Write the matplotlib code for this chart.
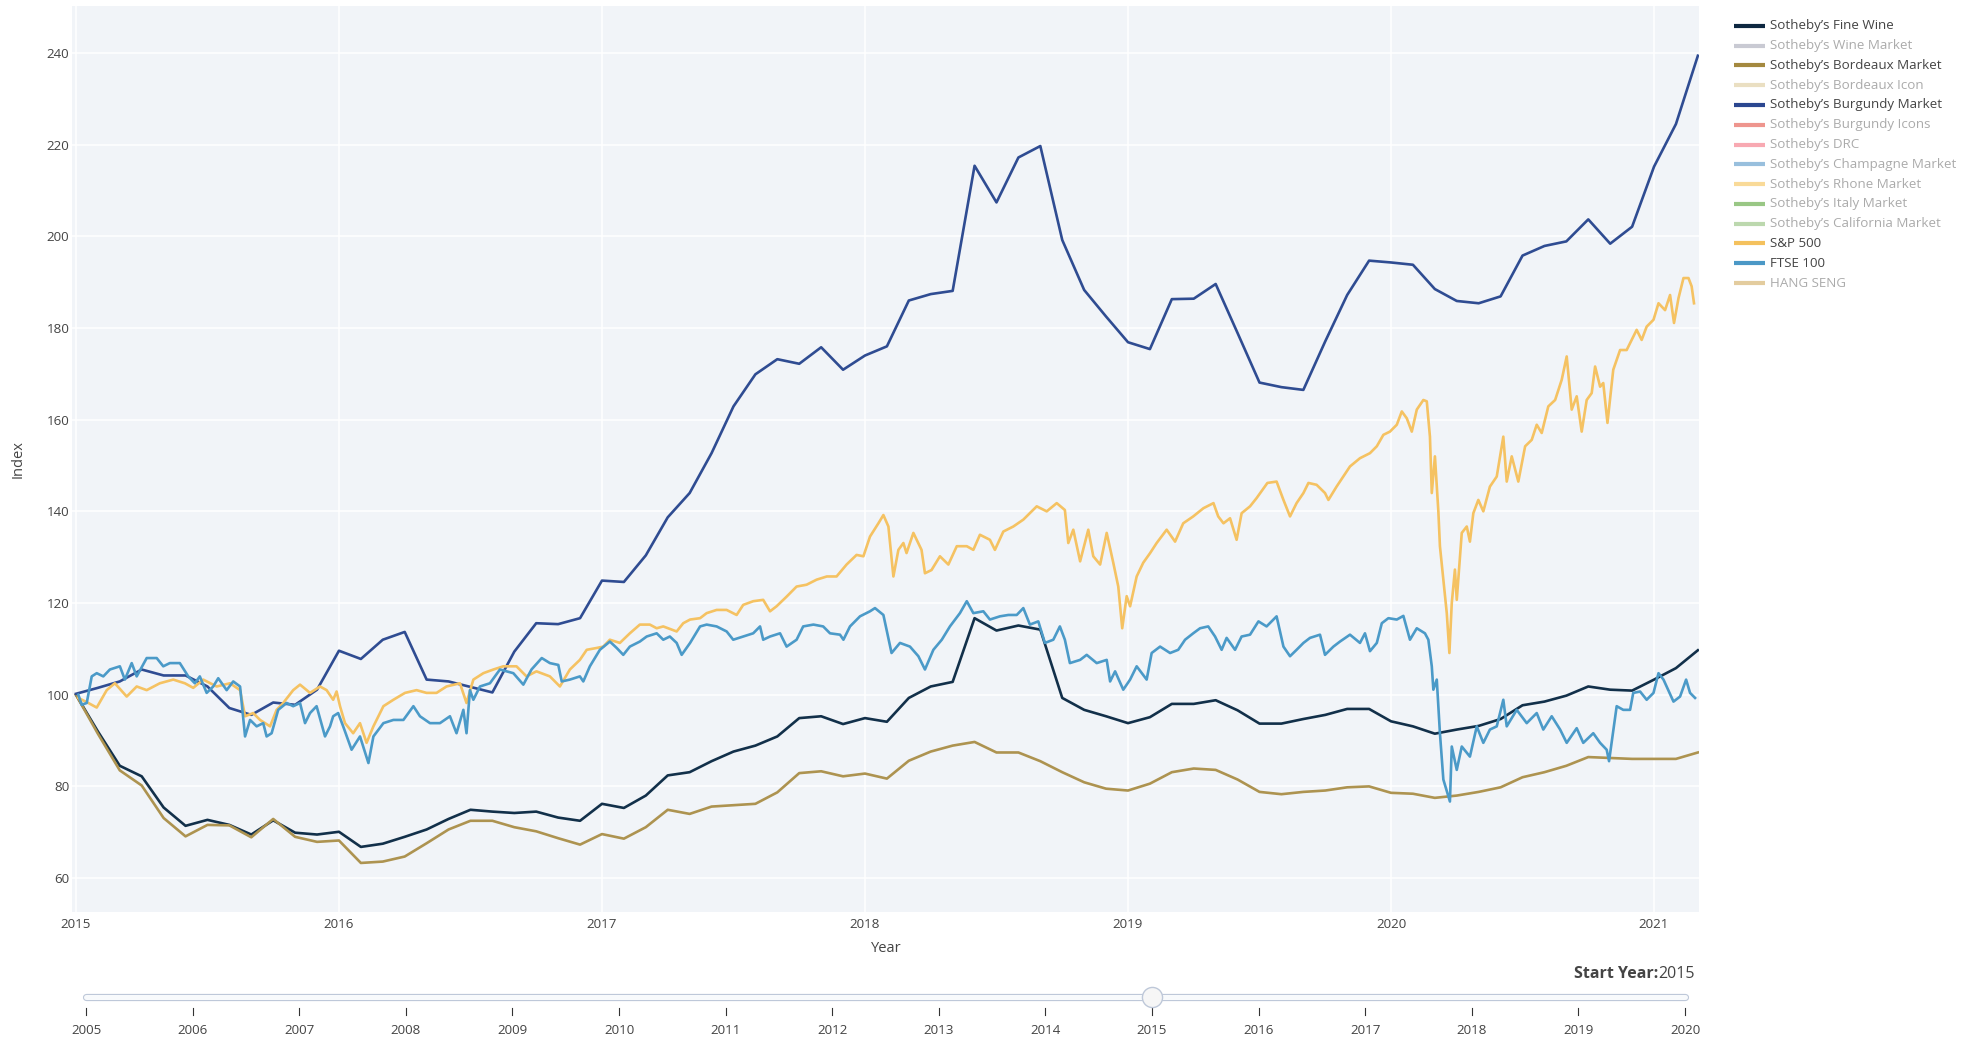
import numpy as np
import matplotlib
matplotlib.use('Agg')
import matplotlib.pyplot as plt
from matplotlib.lines import Line2D

plt.rcParams['font.family'] = ['Open Sans', 'DejaVu Sans']

# monthly wine indices, Jan 2015 .. Mar 2021
months = 2015 + np.arange(75) / 12
fine_wine = [100.0, 92.0, 84.5, 82.2, 75.4, 71.4, 72.7, 71.6, 69.5, 72.6, 69.9, 69.5,
             70.1, 66.8, 67.5, 69.0, 70.6, 72.9, 74.9, 74.5, 74.2, 74.5, 73.2, 72.5,
             76.2, 75.3, 78.0, 82.4, 83.1, 85.5, 87.6, 88.9, 90.9, 94.9, 95.3, 93.6,
             94.9, 94.1, 99.3, 101.8, 102.8, 116.7, 114.0, 115.1, 114.2, 99.3, 96.7, 95.3,
             93.8, 95.1, 98.0, 98.0, 98.8, 96.6, 93.7, 93.7, 94.7, 95.6, 96.9, 96.9,
             94.2, 93.1, 91.5, 92.4, 93.2, 94.7, 97.7, 98.5, 99.8, 101.8, 101.1, 100.9,
             103.3, 105.8, 109.7]
bordeaux = [100.0, 91.5, 83.5, 80.2, 73.1, 69.1, 71.6, 71.5, 68.9, 72.9, 69.0, 67.9,
            68.2, 63.3, 63.6, 64.7, 67.6, 70.6, 72.5, 72.5, 71.1, 70.2, 68.7, 67.3,
            69.6, 68.6, 71.1, 74.9, 74.0, 75.6, 75.9, 76.2, 78.7, 82.9, 83.3, 82.2,
            82.8, 81.7, 85.6, 87.6, 88.9, 89.7, 87.4, 87.4, 85.5, 83.1, 80.9, 79.5,
            79.1, 80.6, 83.1, 83.9, 83.6, 81.5, 78.8, 78.3, 78.8, 79.1, 79.8, 80.0,
            78.6, 78.4, 77.5, 78.0, 78.8, 79.8, 82.0, 83.1, 84.5, 86.4, 86.2, 86.0,
            86.0, 86.0, 87.4]
burgundy = [100.2, 101.5, 102.9, 105.5, 104.2, 104.2, 101.8, 97.1, 95.6, 98.3, 97.8, 101.1,
            109.6, 107.8, 112.0, 113.7, 103.3, 102.9, 101.7, 100.5, 109.4, 115.6, 115.4, 116.7,
            124.9, 124.6, 130.4, 138.7, 144.0, 152.7, 162.9, 169.9, 173.2, 172.2, 175.8, 170.9,
            174.0, 176.0, 186.0, 187.4, 188.1, 215.4, 207.4, 217.2, 219.7, 199.2, 188.3, 182.5,
            176.9, 175.4, 186.3, 186.4, 189.6, 178.9, 168.1, 167.1, 166.5, 177.1, 187.2, 194.7,
            194.3, 193.8, 188.5, 185.9, 185.4, 186.9, 195.8, 197.9, 198.9, 203.7, 198.4, 202.1,
            215.2, 224.5, 239.4]

# S&P 500 (rebased)
sp_dates = [2015.009, 2015.047, 2015.079, 2015.117, 2015.148, 2015.193, 2015.231, 2015.269, 2015.319, 2015.370,
            2015.414, 2015.446, 2015.484, 2015.535, 2015.586, 2015.624, 2015.643, 2015.674, 2015.700, 2015.738,
            2015.763, 2015.788, 2015.826, 2015.852, 2015.890, 2015.928, 2015.953, 2015.978, 2015.991, 2016.004,
            2016.023, 2016.054, 2016.080, 2016.105, 2016.131, 2016.169, 2016.207, 2016.251, 2016.295, 2016.333,
            2016.371, 2016.409, 2016.460, 2016.485, 2016.511, 2016.549, 2016.587, 2016.625, 2016.675, 2016.713,
            2016.751, 2016.802, 2016.840, 2016.878, 2016.916, 2016.942, 2016.980, 2017.005, 2017.030, 2017.068,
            2017.106, 2017.144, 2017.182, 2017.208, 2017.233, 2017.284, 2017.309, 2017.335, 2017.373, 2017.398,
            2017.436, 2017.474, 2017.512, 2017.537, 2017.575, 2017.613, 2017.639, 2017.664, 2017.702, 2017.740,
            2017.778, 2017.816, 2017.855, 2017.892, 2017.930, 2017.968, 2017.994, 2018.019, 2018.051, 2018.070,
            2018.089, 2018.108, 2018.127, 2018.146, 2018.158, 2018.184, 2018.215, 2018.228, 2018.253, 2018.285,
            2018.317, 2018.349, 2018.387, 2018.412, 2018.437, 2018.475, 2018.494, 2018.526, 2018.564, 2018.602,
            2018.653, 2018.691, 2018.729, 2018.760, 2018.773, 2018.792, 2018.818, 2018.849, 2018.868, 2018.894,
            2018.919, 2018.944, 2018.963, 2018.978, 2018.995, 2019.008, 2019.033, 2019.058, 2019.084, 2019.109,
            2019.147, 2019.179, 2019.210, 2019.248, 2019.287, 2019.325, 2019.343, 2019.363, 2019.388, 2019.413,
            2019.432, 2019.464, 2019.489, 2019.530, 2019.565, 2019.591, 2019.616, 2019.641, 2019.667, 2019.686,
            2019.717, 2019.749, 2019.762, 2019.793, 2019.844, 2019.882, 2019.920, 2019.946, 2019.971, 2019.996,
            2020.022, 2020.041, 2020.060, 2020.079, 2020.098, 2020.123, 2020.136, 2020.148, 2020.155, 2020.167,
            2020.180, 2020.186, 2020.199, 2020.212, 2020.222, 2020.231, 2020.243, 2020.250, 2020.269, 2020.288,
            2020.300, 2020.313, 2020.332, 2020.351, 2020.376, 2020.402, 2020.427, 2020.440, 2020.459, 2020.484,
            2020.510, 2020.535, 2020.554, 2020.573, 2020.598, 2020.624, 2020.649, 2020.668, 2020.687, 2020.706,
            2020.725, 2020.744, 2020.763, 2020.776, 2020.795, 2020.807, 2020.823, 2020.845, 2020.871, 2020.896,
            2020.915, 2020.934, 2020.953, 2020.972, 2020.998, 2021.017, 2021.042, 2021.061, 2021.076, 2021.093,
            2021.112, 2021.131, 2021.143, 2021.152]
sp_vals = [99.3, 98.2, 97.2, 101.0, 102.5, 99.6, 101.8, 101.0, 102.5, 103.3,
           102.5, 101.5, 103.3, 101.8, 102.5, 101.0, 95.3, 96.0, 94.5, 93.1,
           96.7, 98.2, 101.0, 102.2, 100.4, 101.8, 101.0, 98.9, 100.7, 97.5,
           93.8, 91.6, 93.8, 89.5, 93.1, 97.5, 98.9, 100.4, 101.0, 100.4,
           100.4, 101.8, 102.5, 98.2, 103.3, 104.7, 105.5, 106.2, 106.2, 104.0,
           105.1, 104.0, 101.8, 105.5, 107.6, 109.8, 110.2, 110.5, 112.0, 111.3,
           113.4, 115.3, 115.3, 114.5, 114.9, 113.8, 115.6, 116.4, 116.7, 117.8,
           118.5, 118.5, 117.4, 119.6, 120.4, 120.7, 118.2, 119.3, 121.4, 123.6,
           124.0, 125.1, 125.8, 125.8, 128.4, 130.5, 130.2, 134.5, 137.4, 139.2,
           136.7, 125.8, 131.6, 133.1, 130.9, 135.3, 131.6, 126.5, 127.2, 130.2,
           128.4, 132.4, 132.4, 131.6, 134.9, 133.8, 131.6, 135.6, 136.7, 138.2,
           141.1, 140.0, 141.8, 140.3, 133.1, 136.0, 129.1, 136.0, 130.2, 128.4,
           135.3, 128.8, 123.6, 114.5, 121.5, 119.3, 125.8, 128.8, 130.9, 133.1,
           136.0, 133.4, 137.4, 138.9, 140.7, 141.8, 138.9, 137.4, 138.5, 133.8,
           139.6, 141.1, 142.9, 146.2, 146.5, 142.5, 138.9, 141.8, 144.0, 146.2,
           145.8, 144.0, 142.5, 145.4, 149.8, 151.6, 152.7, 154.2, 156.7, 157.4,
           158.9, 161.8, 160.3, 157.4, 162.2, 164.3, 164.0, 156.3, 144.0, 152.0,
           140.0, 132.4, 125.1, 117.8, 109.1, 120.0, 127.3, 120.7, 135.3, 136.7,
           133.4, 139.6, 142.5, 140.0, 145.4, 147.6, 156.3, 146.5, 152.0, 146.5,
           154.2, 155.6, 158.9, 157.1, 162.9, 164.3, 168.7, 173.8, 162.2, 165.1,
           157.4, 164.3, 165.8, 171.6, 167.2, 168.0, 159.3, 170.9, 175.2, 175.2,
           177.4, 179.6, 177.4, 180.3, 181.8, 185.4, 183.9, 187.2, 181.1, 186.5,
           190.9, 190.9, 189.1, 185.4]

# FTSE 100 (rebased)
ftse_dates = [2015.009, 2015.022, 2015.041, 2015.060, 2015.079, 2015.104, 2015.129, 2015.167, 2015.186, 2015.212,
              2015.231, 2015.269, 2015.307, 2015.332, 2015.357, 2015.395, 2015.427, 2015.452, 2015.471, 2015.497,
              2015.522, 2015.541, 2015.573, 2015.598, 2015.624, 2015.643, 2015.662, 2015.687, 2015.712, 2015.725,
              2015.744, 2015.769, 2015.801, 2015.826, 2015.852, 2015.871, 2015.890, 2015.915, 2015.947, 2015.966,
              2015.978, 2015.997, 2016.016, 2016.048, 2016.080, 2016.112, 2016.131, 2016.169, 2016.207, 2016.245,
              2016.283, 2016.308, 2016.346, 2016.384, 2016.422, 2016.447, 2016.473, 2016.485, 2016.498, 2016.511,
              2016.536, 2016.574, 2016.612, 2016.663, 2016.701, 2016.732, 2016.771, 2016.802, 2016.834, 2016.847,
              2016.878, 2016.916, 2016.929, 2016.954, 2016.992, 2017.030, 2017.056, 2017.081, 2017.106, 2017.144,
              2017.170, 2017.208, 2017.233, 2017.258, 2017.284, 2017.303, 2017.335, 2017.373, 2017.398, 2017.436,
              2017.474, 2017.499, 2017.537, 2017.575, 2017.601, 2017.613, 2017.639, 2017.677, 2017.702, 2017.740,
              2017.765, 2017.804, 2017.841, 2017.867, 2017.905, 2017.918, 2017.943, 2017.981, 2018.019, 2018.038,
              2018.070, 2018.101, 2018.133, 2018.171, 2018.203, 2018.228, 2018.260, 2018.292, 2018.323, 2018.361,
              2018.387, 2018.412, 2018.450, 2018.475, 2018.513, 2018.545, 2018.577, 2018.602, 2018.627, 2018.659,
              2018.684, 2018.716, 2018.741, 2018.760, 2018.779, 2018.818, 2018.843, 2018.881, 2018.919, 2018.932,
              2018.951, 2018.982, 2019.008, 2019.033, 2019.071, 2019.090, 2019.122, 2019.160, 2019.191, 2019.217,
              2019.248, 2019.274, 2019.305, 2019.331, 2019.356, 2019.375, 2019.407, 2019.432, 2019.464, 2019.496,
              2019.527, 2019.565, 2019.591, 2019.616, 2019.641, 2019.667, 2019.692, 2019.730, 2019.749, 2019.781,
              2019.806, 2019.844, 2019.882, 2019.901, 2019.920, 2019.946, 2019.965, 2019.990, 2020.022, 2020.047,
              2020.072, 2020.098, 2020.129, 2020.142, 2020.155, 2020.161, 2020.174, 2020.186, 2020.199, 2020.218,
              2020.224, 2020.231, 2020.250, 2020.269, 2020.300, 2020.326, 2020.351, 2020.376, 2020.402, 2020.427,
              2020.440, 2020.478, 2020.516, 2020.554, 2020.579, 2020.611, 2020.643, 2020.668, 2020.706, 2020.731,
              2020.769, 2020.795, 2020.820, 2020.829, 2020.858, 2020.883, 2020.909, 2020.921, 2020.947, 2020.972,
              2020.998, 2021.017, 2021.036, 2021.074, 2021.099, 2021.122, 2021.137, 2021.156]
ftse_vals = [100.0, 97.8, 98.2, 104.0, 104.7, 104.0, 105.5, 106.2, 103.3, 106.9,
             104.0, 108.0, 108.0, 106.2, 106.9, 106.9, 104.0, 102.5, 104.0, 100.4,
             101.8, 103.6, 101.0, 102.9, 101.8, 90.9, 94.5, 93.1, 93.8, 90.9,
             91.6, 96.7, 98.2, 97.5, 98.2, 93.8, 96.0, 97.5, 90.9, 93.1,
             95.3, 96.0, 93.1, 88.0, 90.9, 85.1, 90.9, 93.8, 94.5, 94.5,
             97.5, 95.3, 93.8, 93.8, 95.3, 91.6, 96.7, 91.6, 101.0, 98.9,
             101.8, 102.5, 105.5, 104.7, 102.2, 105.5, 108.0, 106.9, 106.5, 102.9,
             103.3, 104.0, 102.9, 106.2, 109.8, 111.6, 110.2, 108.7, 110.5, 111.6,
             112.7, 113.4, 112.0, 112.7, 111.3, 108.7, 111.3, 114.9, 115.3, 114.9,
             113.8, 112.0, 112.7, 113.4, 114.9, 112.0, 112.7, 113.4, 110.5, 112.0,
             114.9, 115.3, 114.9, 113.4, 113.1, 112.0, 114.9, 117.1, 118.2, 118.9,
             117.4, 109.1, 111.3, 110.5, 108.4, 105.5, 109.8, 112.0, 114.9, 117.8,
             120.4, 117.8, 118.2, 116.4, 117.1, 117.4, 117.4, 118.9, 115.3, 116.0,
             111.3, 112.0, 114.9, 112.0, 106.9, 107.6, 108.7, 106.9, 107.6, 102.9,
             105.1, 101.1, 103.3, 106.2, 103.3, 109.1, 110.5, 109.1, 109.8, 112.0,
             113.4, 114.5, 114.9, 112.7, 109.8, 112.4, 109.8, 112.7, 113.1, 116.0,
             114.9, 117.1, 110.5, 108.4, 109.8, 111.3, 112.4, 113.1, 108.7, 110.5,
             111.6, 113.1, 111.3, 113.4, 109.5, 111.3, 115.6, 116.7, 116.4, 117.2,
             112.0, 114.5, 113.4, 112.0, 106.2, 101.1, 103.3, 91.6, 81.5, 77.8,
             76.7, 88.7, 83.6, 88.7, 86.5, 93.1, 89.5, 92.4, 93.1, 98.9,
             93.1, 96.7, 93.8, 96.0, 92.4, 95.3, 92.4, 89.5, 92.7, 89.5,
             91.6, 89.5, 88.0, 85.5, 97.5, 96.7, 96.7, 100.4, 100.7, 98.9,
             100.4, 104.7, 103.3, 98.5, 99.6, 103.3, 100.4, 99.3]

legend_names = ['Sotheby’s Fine Wine', 'Sotheby’s Wine Market', 'Sotheby’s Bordeaux Market',
                'Sotheby’s Bordeaux Icon', 'Sotheby’s Burgundy Market', 'Sotheby’s Burgundy Icons',
                'Sotheby’s DRC', 'Sotheby’s Champagne Market', 'Sotheby’s Rhone Market',
                'Sotheby’s Italy Market', 'Sotheby’s California Market', 'S&P 500', 'FTSE 100', 'HANG SENG']
legend_colors = ['#0E2841', '#C9CAD3', '#A4893F', '#EADFC2', '#2B4790', '#EE958E', '#F8A9B2',
                 '#98BFDD', '#F9DA98', '#99C785', '#BCD8AE', '#F4C15D', '#4B98C6', '#E3CC9E']
legend_visible = [True, False, True, False, True, False, False, False, False, False, False,
                  True, True, False]

slider_years = list(range(2005, 2021))
start_year = 2015

W, H = 1984, 1047
fig = plt.figure(figsize=(W / 100, H / 100), dpi=100)
fig.patch.set_facecolor('white')

ax = fig.add_axes([72 / W, 1 - 912 / H, (1699 - 72) / W, (912 - 6) / H])
ax.set_facecolor('#F1F4F8')
for s in ax.spines.values():
    s.set_visible(False)
ax.grid(True, color='white', linewidth=1.1)
ax.set_axisbelow(True)

lw = 1.9
ax.plot(months, fine_wine, color='#12304A', lw=lw)
ax.plot(months, bordeaux, color='#AD9350', lw=lw)
ax.plot(months, burgundy, color='#2F4C92', lw=lw)
ax.plot(sp_dates, sp_vals, color='#F5C262', lw=lw)
ax.plot(ftse_dates, ftse_vals, color='#4B9AC8', lw=lw)

ax.set_xlim(2014.985, 2021.171)
ax.set_ylim(52.6, 250.25)
ax.set_xticks(range(2015, 2022))
ax.set_xticklabels([str(y) for y in range(2015, 2022)])
ax.set_yticks(range(60, 241, 20))
ax.tick_params(axis='both', length=0, labelsize=9.6, colors='#444444')
ax.tick_params(axis='x', pad=4)
ax.tick_params(axis='y', pad=2)

fig.text(886 / W, 1 - 949 / H, 'Year', ha='center', va='center', fontsize=10.5, color='#444444')
fig.text(18 / W, 1 - 459 / H, 'Index', ha='center', va='center', rotation=90,
         fontsize=10.5, color='#444444')

# legend
for i, (name, col, vis) in enumerate(zip(legend_names, legend_colors, legend_visible)):
    yy = 1 - (25.7 + i * 19.8) / H
    fig.add_artist(Line2D([1734 / W, 1765 / W], [yy, yy], transform=fig.transFigure,
                          color=col, lw=3.0, solid_capstyle='butt'))
    fig.text(1770 / W, yy, name, ha='left', va='center', fontsize=9.6,
             color='#444444' if vis else '#ABABAB')

# slider
sax = fig.add_axes([86 / W, 1 - 1045 / H, (1685 - 86) / W, 60 / H])
sax.set_xlim(slider_years[0], slider_years[-1])
sax.set_ylim(0, 60)
sax.axis('off')
sax.plot([slider_years[0], slider_years[-1]], [48, 48], color='#BEC8D9', lw=5.2,
         solid_capstyle='round', clip_on=False)
sax.plot([slider_years[0], slider_years[-1]], [48, 48], color='#F8FAFC', lw=3.6,
         solid_capstyle='round', clip_on=False)
for yr in slider_years:
    sax.plot([yr, yr], [30, 37], color='#333333', lw=0.8, clip_on=False)
    sax.text(yr, 14, str(yr), ha='center', va='center', fontsize=9.6, color='#444444')
sax.plot([start_year], [48], marker='o', markersize=14.5, markerfacecolor='#F6F6F6',
         markeredgecolor='#BEC8D9', markeredgewidth=1, clip_on=False)

r = fig.canvas.get_renderer()
t_val = fig.text(1695 / W, 1 - 974 / H, str(start_year), ha='right', va='center',
                 fontsize=11.5, color='#444444')
bb = t_val.get_window_extent(renderer=r)
fig.text(bb.x0 / W, 1 - 974 / H, 'Start Year:', ha='right', va='center',
         fontsize=11.5, fontweight='bold', color='#444444')

fig.savefig('out.png', dpi=100)
